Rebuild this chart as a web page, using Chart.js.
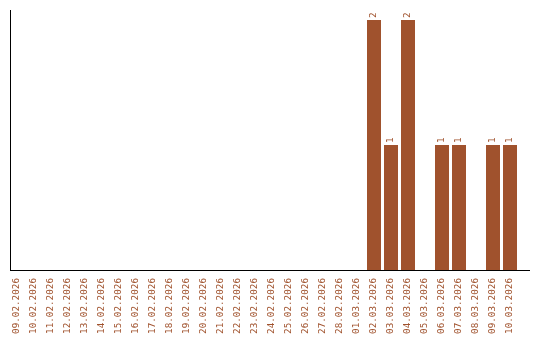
<!DOCTYPE html>
<html><head><meta charset="utf-8">
<script src="https://cdn.jsdelivr.net/npm/chart.js@4/dist/chart.umd.min.js"></script>
<style>html,body{margin:0;padding:0;background:#fff}#wrap{width:540px;height:340px}</style>
</head><body><div id="wrap"><canvas id="c" width="540" height="340"></canvas></div>
<script>
const categories = ["09.02.2026","10.02.2026","11.02.2026","12.02.2026","13.02.2026","14.02.2026","15.02.2026","16.02.2026","17.02.2026","18.02.2026","19.02.2026","20.02.2026","21.02.2026","22.02.2026","23.02.2026","24.02.2026","25.02.2026","26.02.2026","27.02.2026","28.02.2026","01.03.2026","02.03.2026","03.03.2026","04.03.2026","05.03.2026","06.03.2026","07.03.2026","08.03.2026","09.03.2026","10.03.2026"];
const values = [0,0,0,0,0,0,0,0,0,0,0,0,0,0,0,0,0,0,0,0,0,2,1,2,0,1,1,0,1,1];
const yMax = 2.08;

const COLOR = '#A0522D';
const FONT = '"DejaVu Sans Mono", monospace';

const decor = {
  id: 'decor',
  afterDatasetsDraw(chart) {
    const ctx = chart.ctx, a = chart.chartArea;
    ctx.save();
    // value labels
    const meta = chart.getDatasetMeta(0);
    ctx.fillStyle = COLOR;
    ctx.font = '9.3px ' + FONT;
    ctx.textAlign = 'left';
    ctx.textBaseline = 'middle';
    meta.data.forEach((bar, i) => {
      const v = values[i];
      if (!v) return;
      ctx.save();
      ctx.translate(bar.x, bar.y - 2);
      ctx.rotate(-Math.PI / 2);
      ctx.fillText(String(v), 0, 0);
      ctx.restore();
    });
    // axis lines
    ctx.strokeStyle = '#000';
    ctx.lineWidth = 1;
    ctx.beginPath();
    ctx.moveTo(10.5, a.top);
    ctx.lineTo(10.5, a.bottom + 0.5);
    ctx.moveTo(10, a.bottom + 0.5);
    ctx.lineTo(530, a.bottom + 0.5);
    ctx.stroke();
    ctx.restore();
  }
};

new Chart(document.getElementById('c'), {
  type: 'bar',
  data: {
    labels: categories,
    datasets: [{ data: values, backgroundColor: COLOR, borderWidth: 0, barPercentage: 14/17, categoryPercentage: 1 }]
  },
  options: {
    responsive: false,
    animation: false,
    devicePixelRatio: 1,
    layout: { padding: { left: 8.5, top: 10, right: 21.5, bottom: 0 } },
    plugins: { legend: { display: false }, tooltip: { enabled: false } },
    scales: {
      x: {
        grid: { display: false, drawTicks: false },
        border: { display: false },
        ticks: { color: COLOR, font: { family: FONT, size: 9.3 }, minRotation: 90, maxRotation: 90, autoSkip: false, padding: 8 },
        afterFit(s) { s.height = 70; }
      },
      y: {
        display: false,
        min: 0, max: yMax
      }
    }
  },
  plugins: [decor]
});
</script></body></html>
